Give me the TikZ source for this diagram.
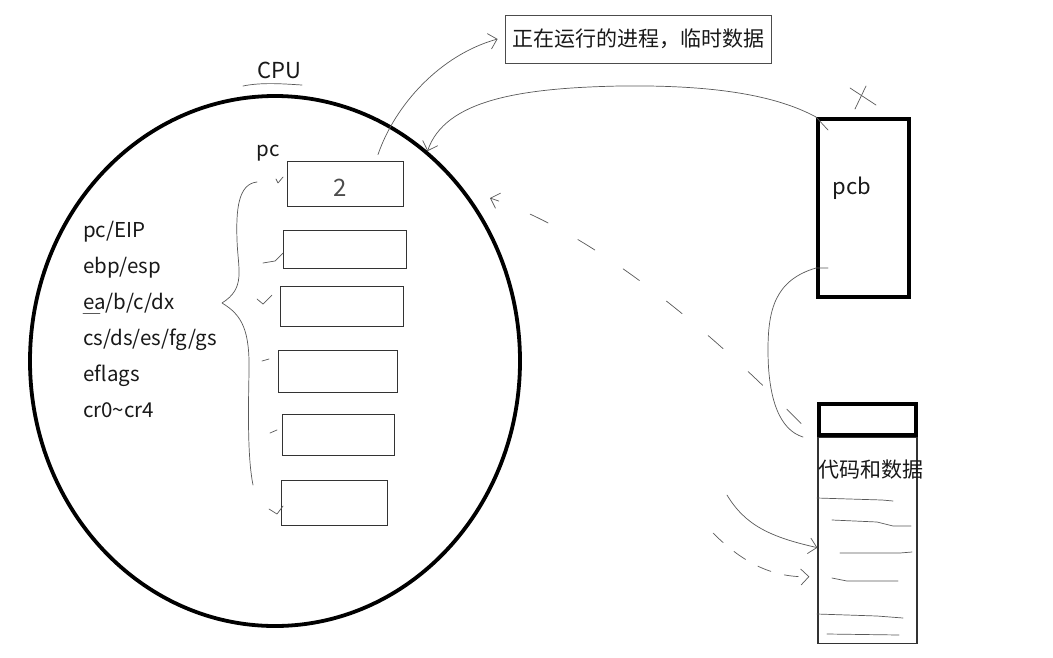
\documentclass[tikz,border=0pt]{standalone}
\usepackage{fontspec}
\setmainfont{Noto Sans CJK SC}
\usetikzlibrary{shapes.geometric, positioning, arrows.meta}

\begin{document}
\begin{tikzpicture}[x=1pt, y=-1pt,
  pen/.style={draw=black!65, line width=0.7pt, line cap=round, line join=round},
  hand/.style={pen, -{Straight Barb[length=8pt, width=16pt]}},
  reg/.style={draw=black!80, line width=0.9pt, inner sep=0pt},
  heavy/.style={draw, line width=4pt, inner sep=0pt},
  lbl/.style={font=\fontsize{20.5}{24}\selectfont, inner sep=0pt, text=black!90},
]
\fill[white] (0,0) rectangle (1053,657);
\useasboundingbox (0,0) rectangle (1053,657);

% cpu
\node[ellipse, draw, line width=3.8pt, minimum width=490pt, minimum height=530pt, inner sep=0pt] (cpu) at (275,361) {};
\node[lbl, font=\fontsize{22}{24}\selectfont] (cputxt) at (279,70) {CPU};
\draw[pen] (243,86) .. controls (262,82) and (285,84) .. (302,85);
\node[lbl] (pctxt) at (268,153) {pc};

\foreach \i/\cx/\cy/\w/\h in {1/345/183.5/116/45, 2/344.5/249/123/38, 3/341.5/306/123/40,
    4/337.5/371/119/42, 5/338/434.5/112/41, 6/334/502.5/106/45}
  \node[reg, minimum width=\w pt, minimum height=\h pt] (reg\i) at (\cx,\cy) {};
\node[font=\fontsize{24}{26}\selectfont, text=black!70] (two) at (340,188) {2};

\foreach \t [count=\i] in {pc/EIP, ebp/esp, ea/b/c/dx, cs/ds/es/fg/gs, eflags, cr0\textasciitilde cr4}
  \node[lbl, anchor=base west] (r\i) at (83,{237+36*(\i-1)}) {\t};
\draw[pen] (83,313) -- (100,313);

% brace and ticks
\draw[pen] (257,182) .. controls (238,184) and (236,210) .. (237,240)
  .. controls (238,270) and (246,288) .. (222,303)
  .. controls (242,315) and (250,330) .. (249,373)
  .. controls (248,420) and (248,460) .. (253,485);
\draw[pen] (276,179) -- (278,183) -- (283,177);
\draw[pen] (263,263) -- (275,261) -- (283,253);
\draw[pen] (257,299) -- (263,304) -- (272,295);
\draw[pen] (262,361) -- (269,359);
\draw[pen] (270,433) -- (277,430);
\draw[pen] (269,509) -- (277,514) -- (283,506);

% top note
\node[draw=black!70, line width=0.9pt, minimum width=266pt, minimum height=48pt,
  font=\fontsize{21}{24}\selectfont, text=black!90] (note) at (638,39) {正在运行的进程，临时数据};
\draw[hand] ([shift={(33pt,6pt)}]reg1.north) .. controls (395,105) and (440,55) .. ([xshift=-7pt]note.west);

% pcb
\node[heavy, minimum width=91pt, minimum height=178pt] (pcb) at (863.5,208) {};
\node[lbl, font=\fontsize{22}{24}\selectfont] (pcbtxt) at (852,188) {pcb};
\draw[pen] (850,88) -- (876,105);
\draw[pen] (866,86) -- (855,109);
\draw[hand] ([shift={(12pt,-13pt)}]pcb.north west) -- (pcb.north west)
  .. controls (770,92) and (700,85) .. (620,86)
  .. controls (520,88) and (445,100) .. (cpu.54);

% code and data
\node[heavy, minimum width=97pt, minimum height=31pt] (head) at (867.5,419.5) {};
\node[draw=black!80, line width=1.3pt, minimum width=99pt, minimum height=206pt, inner sep=0pt,
  below=0pt of head] (body) {};
\node[font=\fontsize{21}{24}\selectfont, inner sep=0pt, text=black!90] (codetxt) at (871,470) {代码和数据};
\draw[pen] (817,498) -- (882,500) -- (893,501);
\draw[pen] (832,520) -- (877,522) -- (893,526) -- (911,526);
\draw[pen] (840,553) -- (900,553) -- (912,552);
\draw[pen] (832,578) -- (847,581) -- (898,581);
\draw[pen] (817,614) -- (877,616) -- (903,618);
\draw[pen] (827,634) -- (899,635);

\draw[pen] ([shift={(12pt,-60pt)}]pcb.west) -- ([yshift=-60pt]pcb.west)
  .. controls (775,280) and (768,310) .. (768,350)
  .. controls (768,400) and (780,430) .. ([xshift=-14pt]head.south west);

\coordinate (back) at (490,198);
\draw[hand, dash pattern=on 20pt off 34pt] ([shift={(-16pt,-4pt)}]head.west)
  .. controls (720,340) and (600,235) .. (back);

\coordinate (s1) at (727,495);
\coordinate (s2) at (713,533);
\draw[hand] (s1) .. controls (745,525) and (770,537) .. ([yshift=-7pt]body.west);
\draw[hand, dash pattern=on 14pt off 14pt] (s2) .. controls (740,560) and (770,578) .. ([shift={(-8pt,-36pt)}]body.west);
\end{tikzpicture}
\end{document}
